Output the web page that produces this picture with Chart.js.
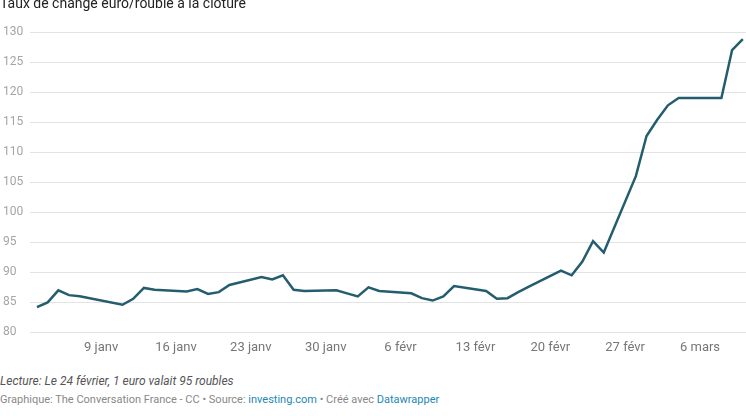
<!DOCTYPE html>
<html>
<head>
<meta charset="utf-8">
<script src="https://cdn.jsdelivr.net/npm/chart.js@4/dist/chart.umd.min.js"></script>
<style>
  body { margin: 0; background: #fff; font-family: Roboto, sans-serif; }
  #wrap { position: relative; width: 746px; height: 416px; overflow: hidden; }
  #title { position: absolute; left: 0; top: -5px; font-size: 14px; color: #222; white-space: nowrap; }
  #chartBox { position: absolute; left: 0; top: 0; width: 746px; height: 364px; }
  #note { position: absolute; left: 0; top: 374px; font-size: 12px; font-style: italic; color: #555; white-space: nowrap; }
  #credit { position: absolute; left: 0; top: 393px; font-size: 11px; color: #888; white-space: nowrap; }
  #credit a { color: #1d88b3; text-decoration: none; }
</style>
</head>
<body>
<div id="wrap">
  <div id="chartBox"><canvas id="chart"></canvas></div>
  <div id="title">Taux de change euro/rouble à la clôture</div>
  <div id="note">Lecture: Le 24 février, 1 euro valait 95 roubles</div>
  <div id="credit">Graphique: The Conversation France - CC • Source: <a>investing.com</a> • Créé avec <a>Datawrapper</a></div>
</div>
<script>
// day of year 2022 (1 = 1 janv)
const days = [3, 4, 5, 6, 7, 11, 12, 13, 14, 17, 18, 19, 20, 21, 24, 25, 26, 27, 28, 31,
  32, 33, 34, 35, 38, 39, 40, 41, 42, 45, 46, 47, 48, 49, 52, 53, 54, 55, 56, 59,
  60, 61, 62, 63, 67, 68, 69];
const rates = [84.2, 85.0, 87.0, 86.2, 86.0, 84.6, 85.6, 87.4, 87.1, 86.8, 87.2, 86.4, 86.7, 87.9, 89.2, 88.8, 89.5, 87.1, 86.9, 87.0,
  86.5, 86.0, 87.5, 86.9, 86.5, 85.7, 85.3, 86.0, 87.7, 86.9, 85.6, 85.7, 86.7, 87.6, 90.3, 89.5, 91.8, 95.2, 93.3, 106.0,
  112.7, 115.4, 117.8, 119.0, 119.0, 127.0, 128.8];

const tickDays = [9, 16, 23, 30, 37, 44, 51, 58, 65];
const tickLabels = ["9 janv", "16 janv", "23 janv", "30 janv", "6 févr", "13 févr", "20 févr", "27 févr", "6 mars"];

const ctx = document.getElementById("chart").getContext("2d");
new Chart(ctx, {
  type: "line",
  data: {
    datasets: [{
      data: days.map((d, i) => ({ x: d, y: rates[i] })),
      borderColor: "#245d6e",
      borderWidth: 2.5,
      pointRadius: 0,
      tension: 0,
      fill: false
    }]
  },
  options: {
    responsive: true,
    maintainAspectRatio: false,
    animation: false,
    layout: { padding: { top: 32, left: 3, right: 0, bottom: 0 } },
    plugins: { legend: { display: false }, tooltip: { enabled: false } },
    scales: {
      x: {
        type: "linear",
        min: 2.35,
        max: 69.3,
        grid: { display: false, drawTicks: false },
        border: { display: false },
        afterBuildTicks: axis => { axis.ticks = tickDays.map(v => ({ value: v })); },
        ticks: {
          autoSkip: false,
          maxRotation: 0,
          padding: 8,
          color: "#767676",
          font: { family: "Roboto", size: 13 },
          callback: (v) => tickLabels[tickDays.indexOf(v)]
        }
      },
      y: {
        min: 80,
        max: 130,
        afterFit: axis => { axis.width = 27; },
        grid: { color: "#e3e3e3", lineWidth: 1, drawTicks: false },
        border: { display: false },
        ticks: {
          stepSize: 5,
          padding: 0,
          crossAlign: "far",
          color: "#a5a5a5",
          font: { family: "Roboto", size: 12 }
        }
      }
    }
  }
});
</script>
</body>
</html>
